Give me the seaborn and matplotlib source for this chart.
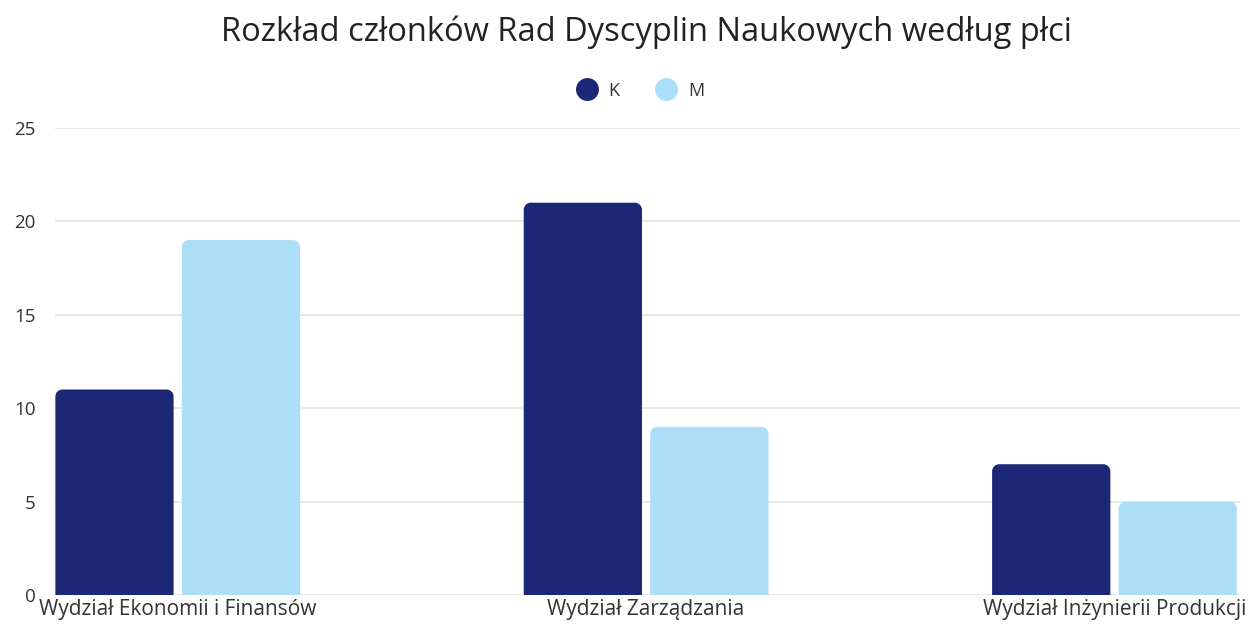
import numpy as np
import pandas as pd
import matplotlib
matplotlib.use("Agg")
import matplotlib.pyplot as plt
from matplotlib.path import Path
from matplotlib.patches import PathPatch
from matplotlib.lines import Line2D
import seaborn as sns

# Data
departments = ["Wydział Ekonomii i Finansów", "Wydział Zarządzania", "Wydział Inżynierii Produkcji"]
genders = ["K", "M"]
k_values = [11, 21, 7]
m_values = [19, 9, 5]
y_ticks = [0, 5, 10, 15, 20, 25]

colors = {"K": "#1c2776", "M": "#acdff7"}

df = pd.DataFrame({
    "Wydział": departments * 2,
    "Płeć": ["K"] * 3 + ["M"] * 3,
    "Liczba": k_values + m_values,
})

sns.set_theme(style="white")
plt.rcParams["font.family"] = ["Open Sans", "DejaVu Sans"]

W, H = 1253, 626
fig = plt.figure(figsize=(W / 100, H / 100), dpi=100)
ax = fig.add_axes([55 / W, 31 / H, 1185 / W, 467 / H])

sns.barplot(data=df, x="Wydział", y="Liczba", hue="Płeć", order=departments,
            hue_order=genders, palette=colors, width=0.54, gap=0.065,
            legend=False, ax=ax, saturation=1, zorder=3)

ax.set_xlim(-0.262, 2.268)
ax.set_ylim(0, 25)
ax.set_yticks(y_ticks)
ax.yaxis.grid(True, color="#e3e3e3", linewidth=1.2, zorder=0)
ax.set_axisbelow(True)
for s in ax.spines.values():
    s.set_visible(False)
ax.set_xlabel("")
ax.set_ylabel("")
ax.tick_params(axis="y", length=0, pad=14, labelsize=13.5, labelcolor="#333333")
ax.tick_params(axis="x", length=0, pad=3, labelsize=15, labelcolor="#333333")

# Rounded top corners on each bar
fig.canvas.draw()
px_per_x = ax.transData.transform((1, 0))[0] - ax.transData.transform((0, 0))[0]
px_per_y = ax.transData.transform((0, 1))[1] - ax.transData.transform((0, 0))[1]
r_px = 7
rx, ry = r_px / px_per_x, r_px / px_per_y
k = 0.5523
for p in list(ax.patches):
    x0, y0 = p.get_x(), p.get_y()
    w, h = p.get_width(), p.get_height()
    if h <= 0:
        continue
    x1, y1 = x0 + w, y0 + h
    verts = [
        (x0, y0), (x0, y1 - ry),
        (x0, y1 - ry + k * ry), (x0 + rx - k * rx, y1), (x0 + rx, y1),
        (x1 - rx, y1),
        (x1 - rx + k * rx, y1), (x1, y1 - ry + k * ry), (x1, y1 - ry),
        (x1, y0), (x0, y0),
    ]
    codes = [Path.MOVETO, Path.LINETO,
             Path.CURVE4, Path.CURVE4, Path.CURVE4,
             Path.LINETO,
             Path.CURVE4, Path.CURVE4, Path.CURVE4,
             Path.LINETO, Path.CLOSEPOLY]
    ax.add_patch(PathPatch(Path(verts, codes), facecolor=p.get_facecolor(),
                           edgecolor="none", zorder=3))
    p.set_visible(False)

fig.text(0.516, 0.948, "Rozkład członków Rad Dyscyplin Naukowych według płci",
         ha="center", va="center", fontsize=23.5, color="#222222")

handles = [Line2D([], [], marker="o", linestyle="none", markersize=15.5,
                  markerfacecolor=colors[g], markeredgecolor=colors[g]) for g in genders]
fig.legend(handles, genders, loc="center", bbox_to_anchor=(0.508, 0.855), ncol=2,
           frameon=False, fontsize=13, handletextpad=0.2, columnspacing=1.6,
           labelcolor="#333333")

fig.savefig("out.png", dpi=100, facecolor="white")
